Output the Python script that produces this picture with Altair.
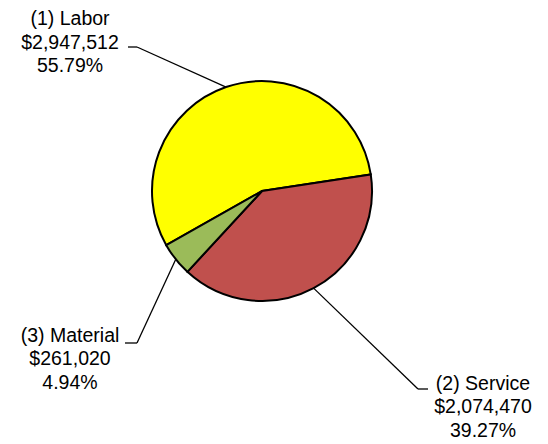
import math
import altair as alt
import pandas as pd

# ---- data ----
categories = ["Labor", "Service", "Material"]
values = [2947512, 2074470, 261020]
colors = ["#FFFF00", "#C0504D", "#9BBB59"]

# ---- layout (page pixel coordinates) ----
W, H = 532, 434
MARGIN = 8
center = (262, 191)
radius = 110
start_deg = 240.5  # angle where the first slice (Labor) begins, clockwise from 12 o'clock
label_anchor = [(70, 25), (483, 389.5), (70, 341.5)]
elbow = [(137, 47), (418, 389), (137, 343)]
tick_end = [(128, 47), (428, 389), (125, 343)]

total = sum(values)
pcts = [v / total * 100 for v in values]

pie_df = pd.DataFrame({
    "category": categories,
    "value": values,
    "order": list(range(len(categories))),
})

# leader lines start on the pie edge at each slice's mid-angle
rules = []
acc = start_deg
for i, v in enumerate(values):
    span = v / total * 360
    mid = math.radians(acc + span / 2)
    acc += span
    sx = center[0] + radius * math.sin(mid)
    sy = center[1] - radius * math.cos(mid)
    rules.append({"x": sx, "y": sy, "x2": elbow[i][0], "y2": elbow[i][1]})
    rules.append({"x": elbow[i][0], "y": elbow[i][1], "x2": tick_end[i][0], "y2": tick_end[i][1]})
rule_df = pd.DataFrame(rules)

label_df = pd.DataFrame({
    "x": [p[0] for p in label_anchor],
    "y": [p[1] for p in label_anchor],
    "text": [f"({i+1}) {c}\n${v:,}\n{p:.2f}%" for i, (c, v, p) in enumerate(zip(categories, values, pcts))],
})

xs = alt.Scale(domain=[MARGIN, MARGIN + W], range=[0, W])
ys = alt.Scale(domain=[MARGIN, MARGIN + H], range=[0, H])

start = math.radians(start_deg)
pie = alt.Chart(pie_df).mark_arc(
    outerRadius=radius, stroke="black", strokeWidth=2
).encode(
    theta=alt.Theta("value:Q", stack=True, scale=alt.Scale(range=[start, start + 2 * math.pi])),
    color=alt.Color("category:N", scale=alt.Scale(domain=categories, range=colors), legend=None),
    order=alt.Order("order:Q"),
    x=alt.value(center[0] - MARGIN),
    y=alt.value(center[1] - MARGIN),
)

leaders = alt.Chart(rule_df).mark_rule(color="black", strokeWidth=1.3).encode(
    x=alt.X("x:Q", scale=xs, axis=None),
    y=alt.Y("y:Q", scale=ys, axis=None),
    x2="x2:Q",
    y2="y2:Q",
)

labels = alt.Chart(label_df).mark_text(
    font="Liberation Sans", fontSize=19.5, lineBreak="\n", lineHeight=23.5,
    align="center", baseline="alphabetic", color="#000000",
).encode(
    x=alt.X("x:Q", scale=xs, axis=None),
    y=alt.Y("y:Q", scale=ys, axis=None),
    text="text:N",
)

chart = alt.layer(pie, leaders, labels).properties(
    width=W, height=H, padding=0, autosize=alt.AutoSizeParams(type="none")
).configure_view(stroke=None).resolve_scale(theta="independent")

chart.save("out.html", embed_options={"renderer": "svg", "actions": False})
